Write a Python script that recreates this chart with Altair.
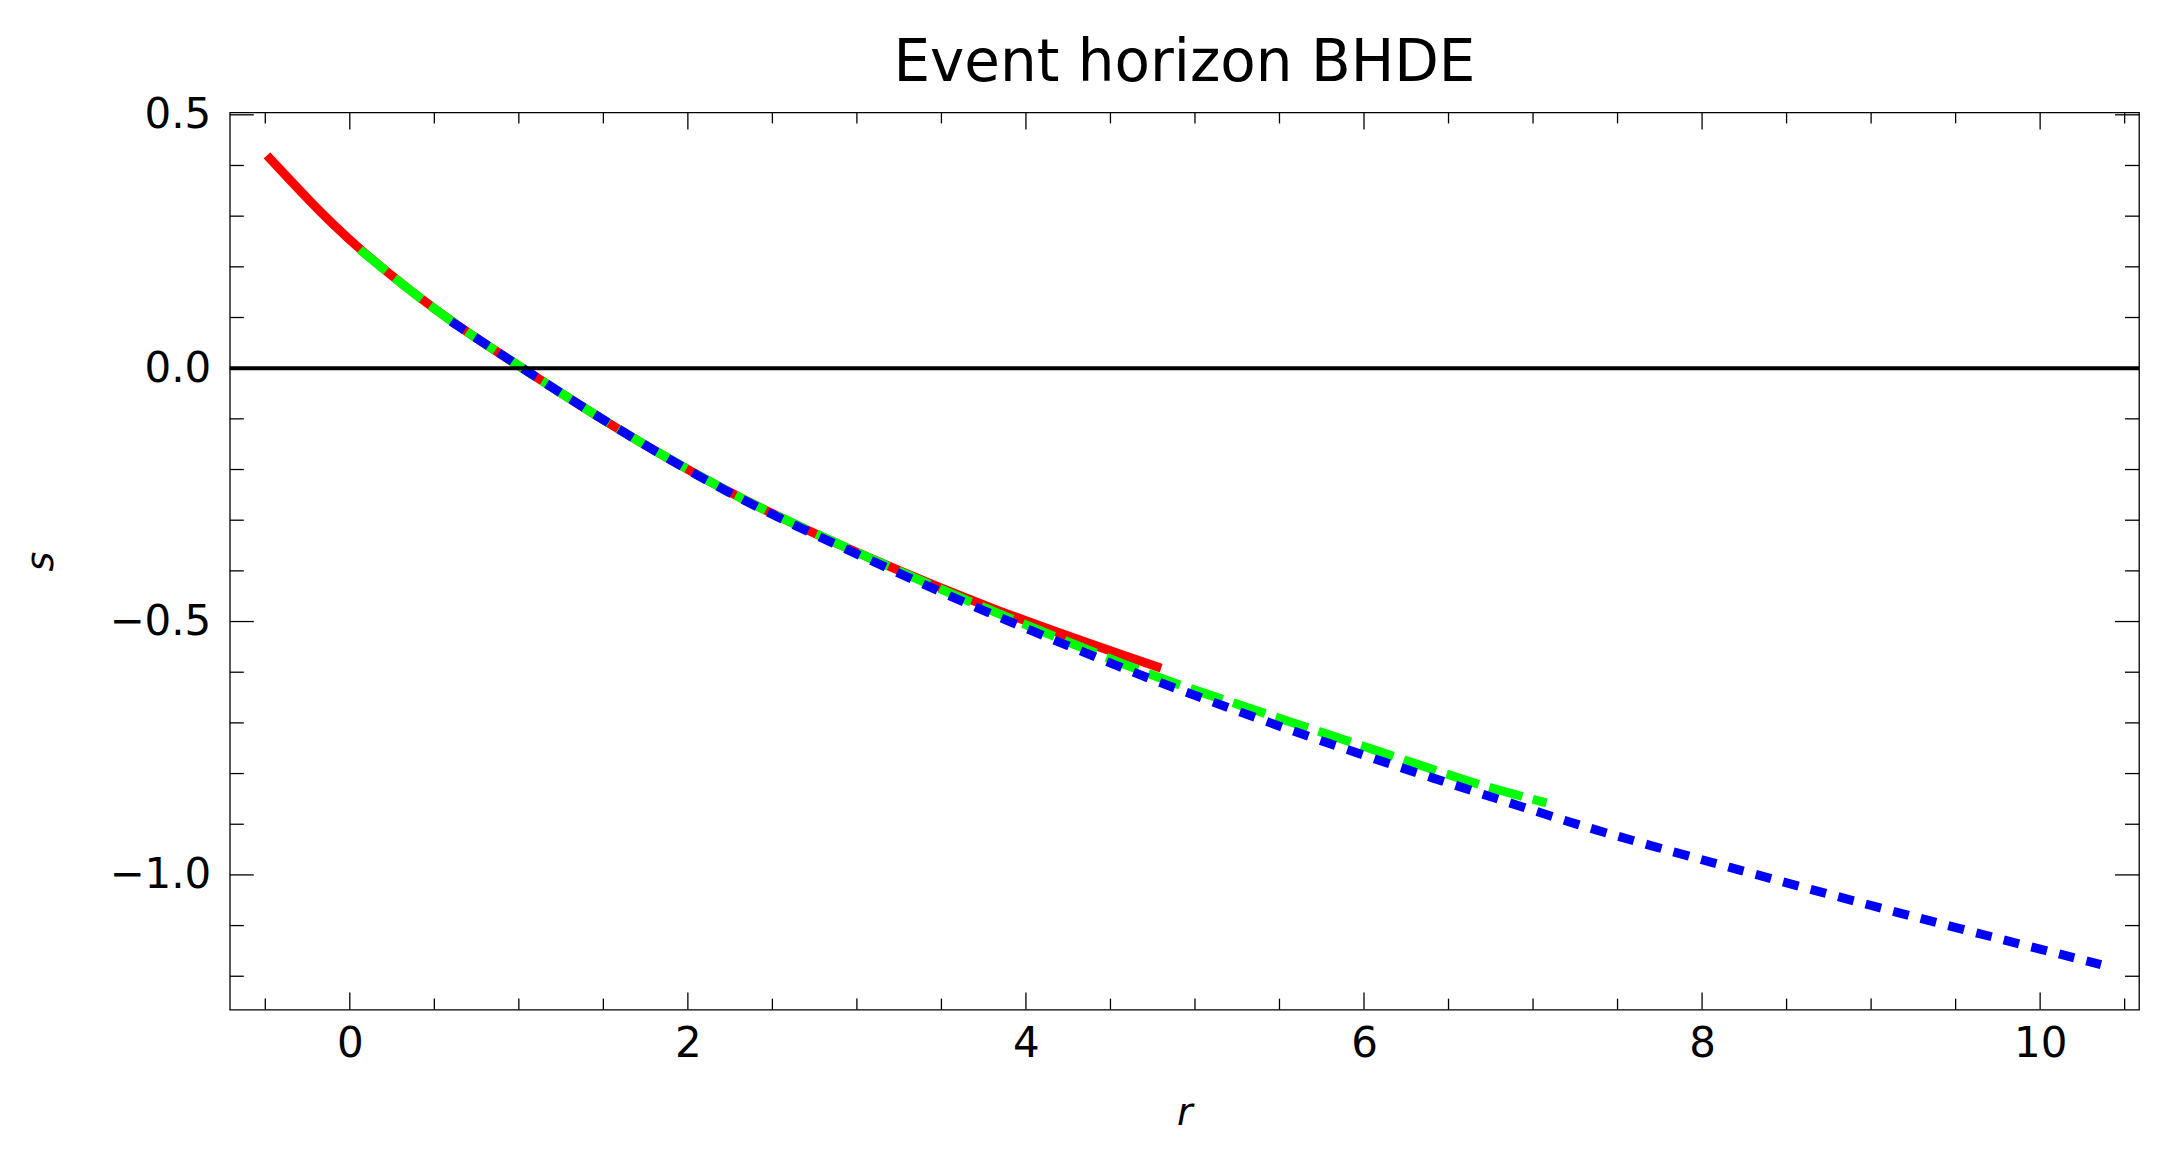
import altair as alt
import pandas as pd

# ---- data ----
red_r = [-0.49, -0.37, -0.24, -0.10, 0.06, 0.37, 0.65, 1.02, 1.36, 1.67, 2.03, 2.27, 2.54, 3.05, 3.80, 4.71, 4.80]
red_s = [0.420, 0.377, 0.331, 0.284, 0.234, 0.149, 0.080, 0.000, -0.073, -0.137, -0.206, -0.249, -0.294, -0.372, -0.477, -0.582, -0.592]

green_r = [0.06, 0.37, 0.65, 1.02, 1.36, 1.67, 2.03, 2.27, 2.54, 3.05, 3.68, 4.67, 4.93, 5.44, 6.46, 6.72, 7.08]
green_s = [0.234, 0.149, 0.080, 0.000, -0.073, -0.137, -0.206, -0.249, -0.294, -0.371, -0.464, -0.597, -0.628, -0.684, -0.798, -0.826, -0.858]

blue_r = [0.60, 1.02, 1.36, 1.67, 2.03, 2.27, 2.54, 3.00, 3.74, 4.67, 4.83, 5.44, 6.09, 7.05, 7.36, 8.03, 8.36, 9.18, 10.36]
blue_s = [0.092, 0.000, -0.073, -0.137, -0.207, -0.250, -0.296, -0.367, -0.479, -0.605, -0.625, -0.700, -0.775, -0.878, -0.911, -0.973, -1.003, -1.077, -1.177]

x_major = [0, 2, 4, 6, 8, 10]
x_minor = [-0.5, 0.5, 1, 1.5, 2.5, 3, 3.5, 4.5, 5, 5.5, 6.5, 7, 7.5, 8.5, 9, 9.5, 10.5]
y_major = [-1.0, -0.5, 0.0, 0.5]
y_minor = [-1.2, -1.1, -0.9, -0.8, -0.7, -0.6, -0.4, -0.3, -0.2, -0.1, 0.1, 0.2, 0.3, 0.4]

title_text = "Event horizon BHDE"
x_title = "r"
y_title = "s"

# ---- layout / style ----
W, H = 1911, 898
FONT = "DejaVu Sans"
xs = alt.Scale(domain=[-0.71, 10.585], nice=False, zero=False)
ys = alt.Scale(domain=[-1.2658, 0.5047], nice=False, zero=False)

x_axis = alt.Axis(values=x_major, format="d", domain=False, ticks=False, tickSize=0, grid=False,
                  labelFont=FONT, labelFontSize=42, labelColor="black", labelPadding=14,
                  title=x_title, titleFont=FONT, titleFontSize=38, titleFontStyle="italic",
                  titleFontWeight="normal", titleColor="black", titleY=115,
                  titleBaseline="alphabetic", titleAlign="center")
y_axis = alt.Axis(values=y_major, format=".1f", domain=False, ticks=False, tickSize=0, grid=False,
                  labelFont=FONT, labelFontSize=42, labelColor="black", labelPadding=19,
                  title=y_title, titleFont=FONT, titleFontSize=38, titleFontStyle="italic",
                  titleFontWeight="normal", titleColor="black", titleAngle=270,
                  titleX=-177, titleY=H / 2, titleBaseline="alphabetic", titleAlign="center")

X = alt.X("r:Q", scale=xs, axis=x_axis)
Y = alt.Y("s:Q", scale=ys, axis=y_axis)

red_df = pd.DataFrame({"r": red_r, "s": red_s})
green_df = pd.DataFrame({"r": green_r, "s": green_s})
blue_df = pd.DataFrame({"r": blue_r, "s": blue_s})

red = alt.Chart(red_df).mark_line(color="#FF0000", strokeWidth=9, interpolate="basis").encode(
    x=X, y=Y, order="r:Q")
green = alt.Chart(green_df).mark_line(color="#00FF00", strokeWidth=9, strokeDash=[34, 11],
                                      interpolate="basis").encode(x=X, y=Y, order="r:Q")
blue = alt.Chart(blue_df).mark_line(color="#0000FF", strokeWidth=9, strokeDash=[16, 12.5],
                                    interpolate="basis").encode(x=X, y=Y, order="r:Q")

zero_line = alt.Chart(pd.DataFrame({"s": [0.0]})).mark_rule(color="black", strokeWidth=4).encode(
    y=Y, x=alt.value(0), x2=alt.value(W))

# inward frame ticks
tick_style = dict(color="black", strokeWidth=1.3)


def xticks(vals, length):
    d = pd.DataFrame({"r": vals})
    top = alt.Chart(d).mark_rule(**tick_style).encode(x=X, y=alt.value(0), y2=alt.value(length))
    bot = alt.Chart(d).mark_rule(**tick_style).encode(x=X, y=alt.value(H), y2=alt.value(H - length))
    return [top, bot]


def yticks(vals, length):
    d = pd.DataFrame({"s": vals})
    left = alt.Chart(d).mark_rule(**tick_style).encode(y=Y, x=alt.value(0), x2=alt.value(length))
    right = alt.Chart(d).mark_rule(**tick_style).encode(y=Y, x=alt.value(W), x2=alt.value(W - length))
    return [left, right]


tick_layers = xticks(x_major, 17) + xticks(x_minor, 11) + yticks(y_major, 24) + yticks(y_minor, 14)

chart = alt.layer(
    red, green, blue, *tick_layers, zero_line
).properties(
    width=W,
    height=H,
    title=alt.TitleParams(title_text, font=FONT, fontSize=58, fontWeight="normal", color="black",
                          anchor="middle", baseline="alphabetic", offset=28, dy=73),
    autosize=alt.AutoSizeParams(type="none"),
    padding={"left": 222, "top": 104, "right": 20, "bottom": 140},
    background="white",
).configure_view(
    stroke="black", strokeWidth=1.3
)

chart.save("out.html", embed_options={"renderer": "svg", "actions": False})
